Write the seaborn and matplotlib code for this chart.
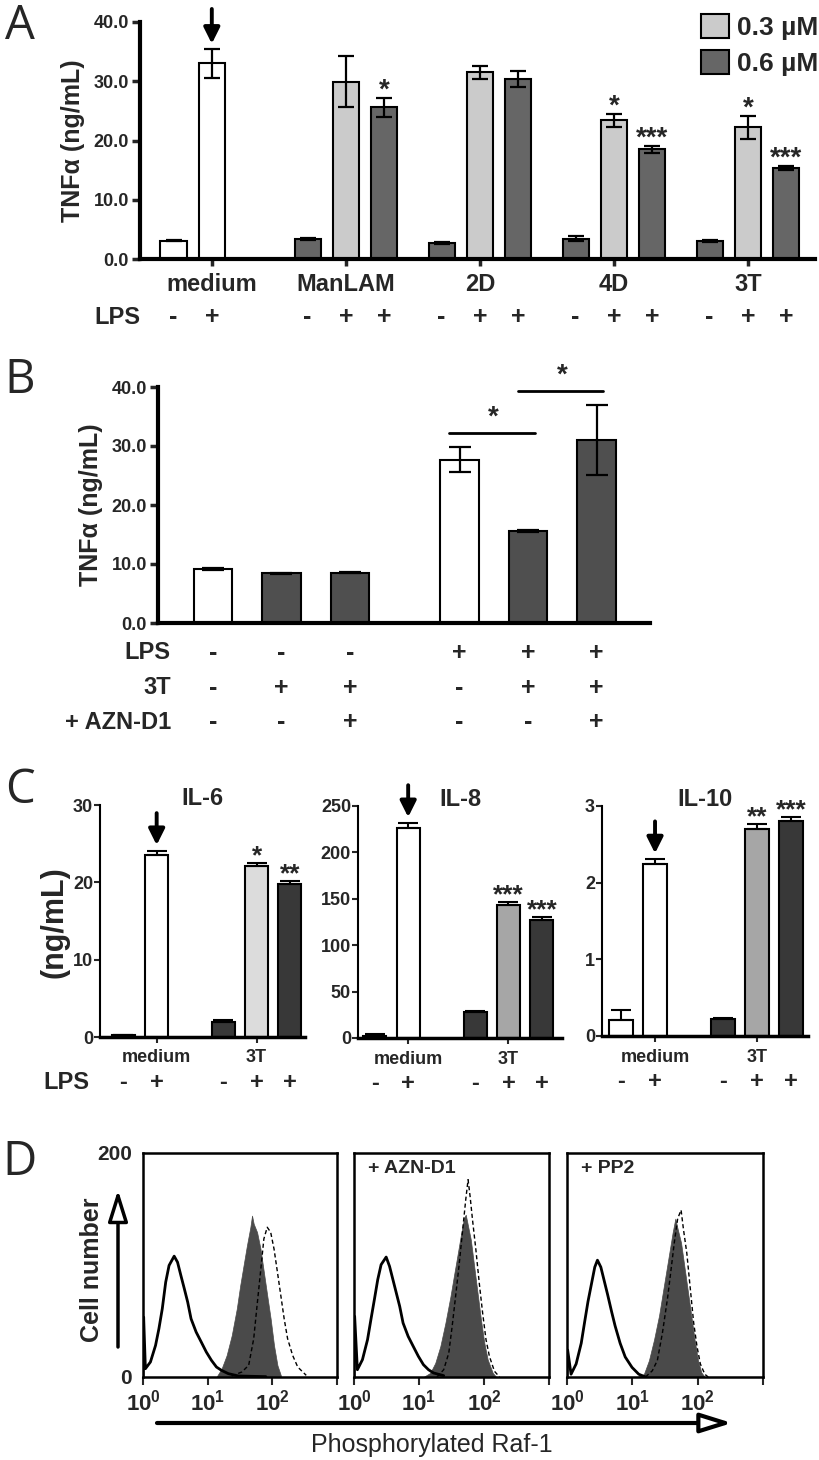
import numpy as np
import pandas as pd
import matplotlib
matplotlib.use('Agg')
import matplotlib.pyplot as plt
from matplotlib import font_manager
from matplotlib.patches import Patch
from matplotlib.ticker import FormatStrFormatter
import seaborn as sns

sns.set_theme(style='white')
installed = {f.name for f in font_manager.fontManager.ttflist}
NARROW = 'Liberation Sans Narrow' if 'Liberation Sans Narrow' in installed else 'Liberation Sans'
WIDE = 'Liberation Sans'
LIGHT = 'Open Sans' if 'Open Sans' in installed else 'DejaVu Sans'
plt.rcParams['font.family'] = [NARROW, 'DejaVu Sans']
plt.rcParams['font.weight'] = 'bold'
plt.rcParams['axes.labelweight'] = 'bold'
plt.rcParams['mathtext.fontset'] = 'custom'
plt.rcParams['mathtext.bf'] = NARROW + ':bold'
plt.rcParams['mathtext.rm'] = NARROW + ':bold'

# ---- panel A: TNFa, compounds at 0.3 / 0.6 uM ----
a_groups = ['medium', 'ManLAM', '2D', '4D', '3T']
a_sizes = [2, 3, 3, 3, 3]
a_kind = ['none', 'none'] + ['high', 'low', 'high'] * 4
a_lps = ['-', '+'] + ['-', '+', '+'] * 4
a_tnf = [3.1, 33.0, 3.4, 29.9, 25.6, 2.7, 31.5, 30.4, 3.4, 23.4, 18.5, 3.1, 22.2, 15.4]
a_err = [0.1, 2.4, 0.15, 4.3, 1.6, 0.2, 1.1, 1.4, 0.4, 1.1, 0.6, 0.15, 1.9, 0.3]
a_stars = ['', '', '', '', '*', '', '', '', '', '*', '***', '', '*', '***']
a_legend = ['0.3 µM', '0.6 µM']

# ---- panel B: 3T with / without AZN-D1 ----
b_tnf = [9.15, 8.4, 8.5, 27.7, 15.6, 31.0]
b_err = [0.25, 0.1, 0.1, 2.1, 0.15, 5.9]
b_kind = ['none', 'high', 'high', 'none', 'high', 'high']
b_row_labels = ['LPS', '3T', '+ AZN-D1']
b_lps = ['-', '-', '-', '+', '+', '+']
b_3t = ['-', '+', '+', '-', '+', '+']
b_azn = ['-', '-', '+', '-', '-', '+']
b_pairs = [(3, 4), (4, 5)]

# ---- panel C: IL-6, IL-8, IL-10 ----
c_titles = ['IL-6', 'IL-8', 'IL-10']
c_ticks = [[0, 10, 20, 30], [0, 50, 100, 150, 200, 250], [0, 1, 2, 3]]
c_groups = ['medium', '3T']
c_lps = ['-', '+', '-', '+', '+']
c_values = [[0.2, 23.5, 2.0, 22.1, 19.8],
            [2.0, 226.0, 28.4, 143.6, 127.4],
            [0.21, 2.25, 0.22, 2.70, 2.81]]
c_err = [[0.05, 0.6, 0.2, 0.45, 0.4],
         [2.0, 6.0, 1.0, 3.0, 3.0],
         [0.13, 0.06, 0.01, 0.07, 0.05]]
c_kind = [['none', 'none', 'dark', 'pale', 'dark'],
          ['dark', 'none', 'dark', 'mid', 'dark'],
          ['none', 'none', 'dark', 'mid', 'dark']]
c_stars = [['', '', '', '*', '**'], ['', '', '', '***', '***'], ['', '', '', '**', '***']]

# ---- panel D: flow cytometry histograms (log10 intensity, cell count) ----
d_titles = ['', '+ AZN-D1', '+ PP2']
d_ctrl_x = [[0.0, 0.01, 0.037, 0.115, 0.194, 0.246, 0.298, 0.351, 0.403, 0.482, 0.534, 0.586, 0.639,
             0.691, 0.743, 0.822, 0.901, 0.979, 1.058, 1.136, 1.215, 1.319, 1.476, 1.9],
            [0.0, 0.01, 0.052, 0.130, 0.208, 0.260, 0.313, 0.365, 0.417, 0.495, 0.547, 0.599, 0.651,
             0.703, 0.755, 0.833, 0.911, 0.990, 1.068, 1.146, 1.224, 1.380],
            [0.0, 0.01, 0.062, 0.140, 0.218, 0.269, 0.321, 0.373, 0.425, 0.466, 0.518, 0.570, 0.622,
             0.684, 0.736, 0.813, 0.891, 0.995, 1.098, 1.202]]
d_ctrl_y = [[0, 53.5, 7.4, 13.4, 28.2, 43.1, 60.9, 84.7, 99.6, 107.9, 102.5, 90.6, 78.8,
             66.9, 52.0, 40.1, 31.2, 22.3, 14.9, 8.9, 5.9, 3.0, 0.9, 0.3],
            [0, 54.2, 6.5, 15.5, 33.3, 51.2, 69.0, 86.9, 100.3, 107.1, 98.8, 86.9, 75.0,
             63.1, 48.2, 36.3, 27.4, 18.5, 11.0, 6.5, 3.6, 1.2],
            [0, 24.1, 2.5, 11.7, 30.2, 48.8, 67.3, 82.7, 98.1, 104.3, 98.1, 85.8, 73.5,
             58.0, 45.7, 30.2, 17.9, 8.6, 2.5, 0]]
d_fill_x = [[1.136, 1.215, 1.293, 1.372, 1.450, 1.503, 1.555, 1.607, 1.660, 1.686, 1.712, 1.764,
             1.817, 1.869, 1.921, 1.974, 2.026, 2.079, 2.131],
            [1.068, 1.172, 1.25, 1.328, 1.406, 1.484, 1.536, 1.589, 1.641, 1.693, 1.719, 1.745,
             1.797, 1.849, 1.901, 1.953, 2.005, 2.057, 2.135, 2.188],
            [1.073, 1.176, 1.254, 1.332, 1.409, 1.461, 1.513, 1.565, 1.617, 1.658, 1.694, 1.746,
             1.798, 1.850, 1.902, 1.953, 2.005, 2.057, 2.109]]
d_fill_y = [[0, 7.4, 19.3, 37.1, 60.9, 81.7, 99.6, 117.4, 133.7, 144.1, 136.7, 129.3,
             114.4, 93.6, 72.8, 52.0, 28.2, 10.4, 1.5],
            [0, 3.6, 12.5, 27.4, 48.2, 72.0, 89.9, 107.7, 125.6, 142.0, 144.9, 137.5,
             122.6, 98.8, 75.0, 51.2, 30.4, 15.5, 3.6, 0],
            [0, 2.5, 14.8, 33.3, 54.9, 73.5, 92.0, 110.5, 129.0, 141.4, 132.1, 119.8,
             98.1, 76.5, 54.9, 33.3, 14.8, 4.0, 0]]
d_dash_x = [[1.372, 1.529, 1.634, 1.712, 1.764, 1.817, 1.869, 1.921, 1.974, 2.026, 2.079, 2.131,
             2.183, 2.236, 2.314, 2.393, 2.524],
            [1.276, 1.380, 1.458, 1.510, 1.563, 1.615, 1.667, 1.719, 1.755, 1.786, 1.823, 1.875,
             1.927, 1.979, 2.031, 2.083, 2.161, 2.240],
            [1.202, 1.306, 1.383, 1.461, 1.539, 1.591, 1.642, 1.694, 1.746, 1.782, 1.834, 1.886,
             1.938, 1.990, 2.041, 2.109, 2.161]]
d_dash_y = [[0.9, 4.5, 10.4, 34.2, 63.9, 93.6, 123.3, 133.7, 129.3, 114.4, 93.6, 72.8,
             52.0, 34.2, 19.3, 8.9, 1.5],
            [0, 6.5, 21.4, 45.2, 72.0, 98.8, 128.6, 158.3, 176.2, 161.3, 140.5, 113.7,
             83.9, 57.1, 33.3, 18.5, 5.1, 0],
            [0, 5.6, 14.8, 39.5, 70.4, 95.1, 119.8, 141.4, 149.1, 132.1, 110.5, 79.6,
             48.8, 27.2, 11.7, 2.5, 0]]

W, H = 820, 1460
fig = plt.figure(figsize=(W / 100, H / 100), dpi=100)


def px_axes(x0, y0, x1, y1):
    return fig.add_axes([x0 / W, 1 - y1 / H, (x1 - x0) / W, (y1 - y0) / H])


def bar_positions(sizes, pitch):
    pos = []
    for g, n in enumerate(sizes):
        pos += [g * pitch + k for k in range(n)]
    return np.array(pos, dtype=float)


def draw_bars(ax, pos, vals, kinds, pal, width, lw):
    df = pd.DataFrame({'pos': pos, 'val': vals, 'kind': kinds})
    sns.barplot(data=df, x='pos', y='val', hue='kind', palette=pal, dodge=False,
                native_scale=True, width=width, edgecolor='black', linewidth=lw,
                errorbar=None, legend=False, ax=ax)
    ax.set_xlabel('')
    ax.set_ylabel('')


def down_arrow(ax, x, y, length=30):
    ax.annotate('', xy=(x, y), xytext=(0, length), textcoords='offset points',
                annotation_clip=False,
                arrowprops=dict(arrowstyle='-|>', color='black', lw=2.8,
                                mutation_scale=24, shrinkA=0, shrinkB=4))


def stars(ax, pos, vals, errs, marks, size):
    for x, v, e, s in zip(pos, vals, errs, marks):
        if s:
            ax.annotate(s, xy=(x, v + e), xytext=(0, -4), textcoords='offset points',
                        ha='center', va='bottom', fontsize=size, annotation_clip=False)


# ================= A =================
pal_a = {'none': 'white', 'low': '#cbcbcb', 'high': '#666666'}
ax_a = px_axes(140, 22, 815, 259)
a_pos = bar_positions(a_sizes, 3.5)
draw_bars(ax_a, a_pos, a_tnf, a_kind, pal_a, 0.68, 1.5)
ax_a.errorbar(a_pos, a_tnf, yerr=a_err, fmt='none', ecolor='black', elinewidth=1.6,
              capsize=6, capthick=1.6)
ax_a.set_xlim(-0.875, 16.75)
ax_a.set_ylim(0, 40)
ax_a.set_yticks([0, 10, 20, 30, 40])
ax_a.yaxis.set_major_formatter(FormatStrFormatter('%.1f'))
starts = np.cumsum([0] + a_sizes[:-1])
ax_a.set_xticks([a_pos[s + 1] for s in starts])
ax_a.set_xticklabels(a_groups, fontsize=17)
ax_a.tick_params(axis='y', direction='out', length=6, width=2.5, labelsize=13, pad=2, left=True)
ax_a.tick_params(axis='x', direction='out', length=5, width=2.5, pad=5, bottom=True)
for side in ['top', 'right']:
    ax_a.spines[side].set_visible(False)
for side in ['left', 'bottom']:
    ax_a.spines[side].set_linewidth(3)
    ax_a.spines[side].set_color('black')
ax_a.set_ylabel('TNFα (ng/mL)', family=WIDE, fontweight='bold', fontsize=18, labelpad=6)
stars(ax_a, a_pos, a_tnf, a_err, a_stars, 20)
down_arrow(ax_a, a_pos[1], a_tnf[1] + a_err[1], 29)
for x, s in zip(a_pos, a_lps):
    ax_a.text(x, -0.245, s, transform=ax_a.get_xaxis_transform(), ha='center', va='center',
              fontsize=18)
ax_a.text(0.0, -0.245, 'LPS', transform=ax_a.transAxes, ha='right', va='center', fontsize=17)
handles = [Patch(fc=pal_a['low'], ec='black', lw=1.5), Patch(fc=pal_a['high'], ec='black', lw=1.5)]
fig.legend(handles, a_legend, loc='upper right', bbox_to_anchor=(818 / W, 1 - 14 / H),
           frameon=False, prop=dict(family=WIDE, weight='bold', size=19),
           handlelength=1.05, handleheight=1.0, handletextpad=0.3, labelspacing=0.4,
           borderpad=0, borderaxespad=0)

# ================= B =================
pal_b = {'none': 'white', 'high': '#4f4f4f'}
ax_b = px_axes(158, 387, 650, 623)
b_pos = bar_positions([3, 3], 3.6)
draw_bars(ax_b, b_pos, b_tnf, b_kind, pal_b, 0.56, 1.5)
ax_b.errorbar(b_pos, b_tnf, yerr=b_err, fmt='none', ecolor='black', elinewidth=1.6,
              capsize=8, capthick=1.6)
ax_b.set_xlim(-0.8, 6.38)
ax_b.set_ylim(0, 40)
ax_b.set_yticks([0, 10, 20, 30, 40])
ax_b.yaxis.set_major_formatter(FormatStrFormatter('%.1f'))
ax_b.set_xticks([])
ax_b.tick_params(axis='y', direction='out', length=6, width=2.5, labelsize=13, pad=2, left=True)
for side in ['top', 'right']:
    ax_b.spines[side].set_visible(False)
for side in ['left', 'bottom']:
    ax_b.spines[side].set_linewidth(3)
    ax_b.spines[side].set_color('black')
ax_b.set_ylabel('TNFα (ng/mL)', family=WIDE, fontweight='bold', fontsize=18, labelpad=6)
for i, j in b_pairs:
    top = max(np.array(b_tnf[i:j + 1]) + np.array(b_err[i:j + 1])) + 2.4
    ax_b.plot([b_pos[i] - 0.15, b_pos[j] + 0.1], [top, top], color='black', lw=2, clip_on=False)
    ax_b.text((b_pos[i] + b_pos[j]) / 2, top + 0.4, '*', ha='center', va='bottom', fontsize=20)
for r, (label, signs) in enumerate(zip(b_row_labels, [b_lps, b_3t, b_azn])):
    y = -0.127 - r * 0.147
    ax_b.text(0.026, y, label, transform=ax_b.transAxes, ha='right', va='center', fontsize=17)
    for x, s in zip(b_pos, signs):
        ax_b.text(x, y, s, transform=ax_b.get_xaxis_transform(), ha='center', va='center',
                  fontsize=18)

# ================= C =================
pal_c = {'none': 'white', 'pale': '#dcdcdc', 'mid': '#a6a6a6', 'dark': '#383838'}
c_rects = [(100, 805, 305, 1037), (358, 806, 562, 1038), (602, 806, 808, 1036)]
c_xlims = [(-0.7, 5.45), (-0.5, 5.6), (-0.56, 5.5)]
c_pos = bar_positions([2, 3], 3)
for i in range(3):
    ax = px_axes(*c_rects[i])
    draw_bars(ax, c_pos, c_values[i], c_kind[i], pal_c, 0.69, 1.5)
    ax.errorbar(c_pos, c_values[i], yerr=[np.zeros(5), c_err[i]], fmt='none', ecolor='black',
                elinewidth=1.5, capsize=7, capthick=1.5)
    ax.set_xlim(*c_xlims[i])
    ax.set_ylim(0, c_ticks[i][-1])
    ax.set_yticks(c_ticks[i])
    ax.set_xticks([c_pos[1], c_pos[3]])
    ax.set_xticklabels(c_groups, fontsize=13)
    ax.tick_params(axis='y', direction='out', length=4, width=1.5, labelsize=13, pad=1, left=True)
    ax.tick_params(axis='x', direction='out', length=4, width=1.5, pad=5, bottom=True)
    for side in ['top', 'right']:
        ax.spines[side].set_visible(False)
    ax.spines['left'].set_linewidth(1.5)
    ax.spines['bottom'].set_linewidth(2.5)
    for side in ['left', 'bottom']:
        ax.spines[side].set_color('black')
    ax.text(0.5, 1.03, c_titles[i], transform=ax.transAxes, ha='center', va='center', fontsize=17)
    stars(ax, c_pos, c_values[i], c_err[i], c_stars[i], 19)
    down_arrow(ax, c_pos[1], c_values[i][1] + c_err[i][1], 27)
    for x, s in zip(c_pos, c_lps):
        ax.text(x, -0.198, s, transform=ax.get_xaxis_transform(), ha='center', va='center',
                fontsize=17)
    if i == 0:
        ax.text(-0.05, -0.198, 'LPS', transform=ax.transAxes, ha='right', va='center',
                fontsize=17)
fig.text(55 / W, 1 - 922 / H, '(ng/mL)', family=WIDE, fontweight='bold', fontsize=22,
         rotation=90, ha='center', va='center')

# ================= D =================
d_rects = [(143, 1153, 337, 1377), (354, 1153, 549, 1377), (567, 1153, 763, 1377)]
for i in range(3):
    ax = px_axes(*d_rects[i])
    ax.fill_between(d_fill_x[i], d_fill_y[i], color='#4a4a4a', lw=0.5)
    sns.lineplot(x=d_dash_x[i], y=d_dash_y[i], ax=ax, color='black', lw=1.0,
                 linestyle=(0, (3, 2)), estimator=None)
    sns.lineplot(x=d_ctrl_x[i], y=d_ctrl_y[i], ax=ax, color='black', lw=2.0, estimator=None)
    ax.set_xlim(0, 3)
    ax.set_ylim(0, 200)
    ax.set_xticks([0, 1, 2, 3])
    ax.set_xticklabels([r'$\mathbf{10^{0}}$', r'$\mathbf{10^{1}}$', r'$\mathbf{10^{2}}$', ''],
                       fontsize=16)
    ax.tick_params(axis='x', direction='out', length=6, width=1.5, pad=3, bottom=True)
    if i == 0:
        ax.set_yticks([0, 200])
        ax.set_yticklabels(['0', '200'], fontsize=15)
        ax.tick_params(axis='y', length=0, pad=8)
    else:
        ax.set_yticks([])
    for side in ax.spines.values():
        side.set_linewidth(1.8)
        side.set_color('black')
    if d_titles[i]:
        ax.text(0.07, 0.93, d_titles[i], transform=ax.transAxes, ha='left', va='center',
                family=WIDE, fontweight='bold', fontsize=14)
    ax.set_xlabel('')
    ax.set_ylabel('')

ax_overlay = fig.add_axes([0, 0, 1, 1])
ax_overlay.set_xlim(0, W)
ax_overlay.set_ylim(H, 0)
ax_overlay.axis('off')
ax_overlay.annotate('', xy=(732, 1423), xytext=(157, 1423),
                    arrowprops=dict(arrowstyle='-|>,head_length=1.6,head_width=0.5', lw=3,
                                    fc='white', ec='black', shrinkA=0, shrinkB=0))
ax_overlay.annotate('', xy=(118, 1190), xytext=(118, 1347),
                    arrowprops=dict(arrowstyle='-|>,head_length=1.6,head_width=0.5', lw=2.5,
                                    fc='white', ec='black', shrinkA=0, shrinkB=0))
ax_overlay.text(432, 1445, 'Phosphorylated Raf-1', ha='center', va='center', fontsize=18,
                fontweight='normal')
ax_overlay.text(92, 1270, 'Cell number', ha='center', va='center', rotation=90,
                family=WIDE, fontweight='bold', fontsize=18)

for letter, (x, y) in zip('ABCD', [(20, 26), (20, 380), (20, 790), (20, 1162)]):
    ax_overlay.text(x, y, letter, ha='center', va='center', family=LIGHT, fontweight='normal',
                    fontsize=34)

fig.savefig('out.png', dpi=100)
